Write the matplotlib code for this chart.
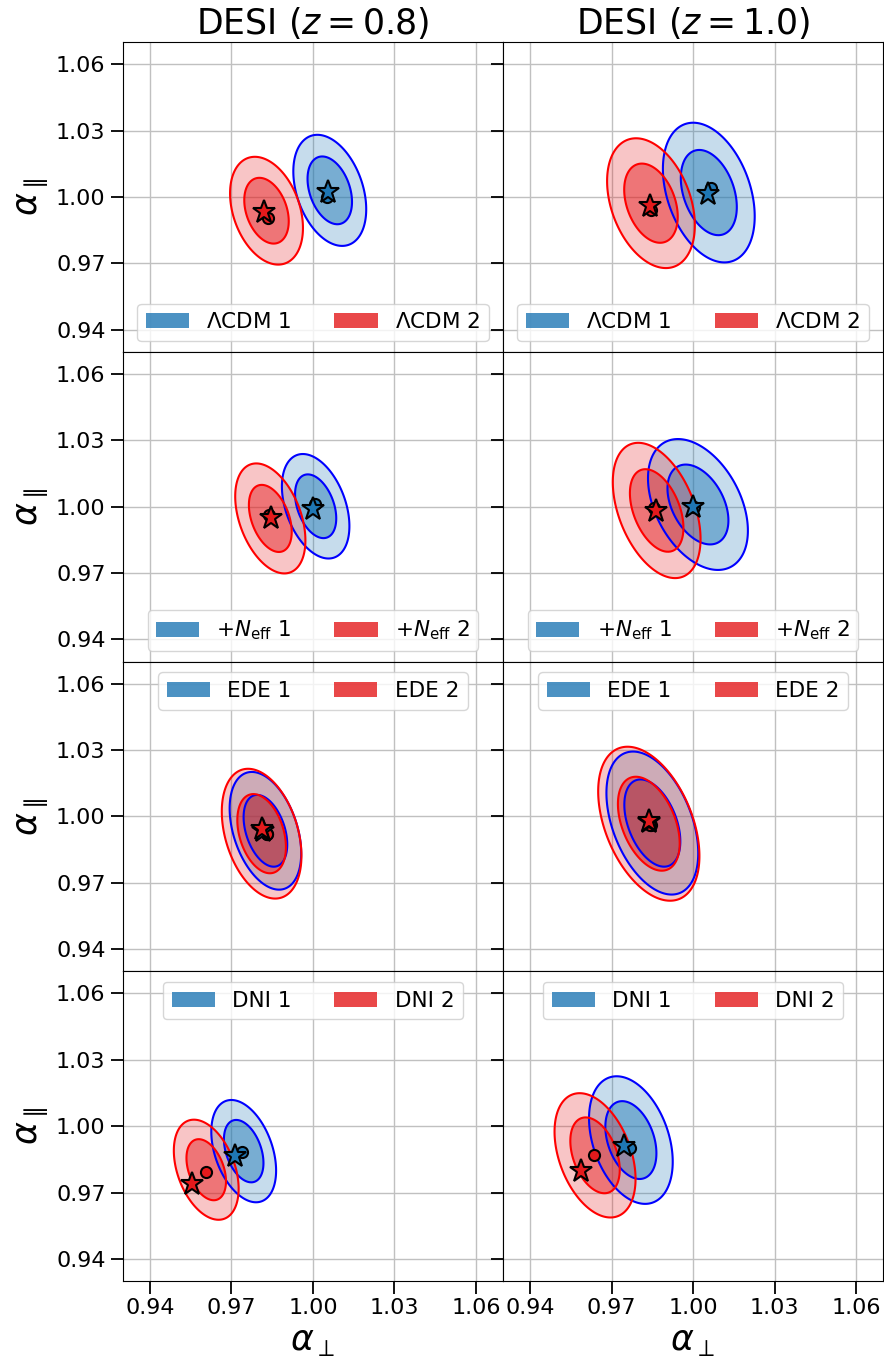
import matplotlib
matplotlib.use('Agg')
import matplotlib.pyplot as plt
import numpy as np
from matplotlib.patches import Patch

# Models (rows) and redshift bins (columns)
models = [r'$\Lambda$CDM', r'$+N_{\rm eff}$', 'EDE', 'DNI']
redshifts = [0.8, 1.0]
legend_loc = ['lower center', 'lower center', 'upper center', 'upper center']

# Dataset 1: posterior means, widths and correlation, shape (model, redshift)
mx1 = [[1.0062, 1.0058], [1.0010, 1.0018], [0.9825, 0.9850], [0.9745, 0.9771]]
my1 = [[1.0030, 1.0020], [1.0002, 1.0010], [0.9935, 0.9970], [0.9887, 0.9937]]
sx1 = [[0.0054, 0.0068], [0.0050, 0.0074], [0.0053, 0.0068], [0.0048, 0.0062]]
sy1 = [[0.0101, 0.0127], [0.0095, 0.0119], [0.0107, 0.0130], [0.0093, 0.0116]]
rho1 = [[-0.34, -0.34], [-0.38, -0.40], [-0.38, -0.42], [-0.38, -0.34]]
star_x1 = [[1.0056, 1.0054], [0.9999, 0.9999], [0.9815, 0.9836], [0.9713, 0.9744]]
star_y1 = [[1.0024, 1.0014], [0.9991, 0.9997], [0.9935, 0.9975], [0.9863, 0.9911]]
dot_x1 = [[1.0053, 1.0067], [1.0006, 1.0003], [0.9829, 0.9845], [0.9737, 0.9766]]
dot_y1 = [[1.0000, 1.0040], [1.0014, 1.0000], [0.9920, 0.9960], [0.9884, 0.9901]]

# Dataset 2
mx2 = [[0.9829, 0.9845], [0.9843, 0.9866], [0.9811, 0.9837], [0.9607, 0.9639]]
my2 = [[0.9938, 0.9972], [0.9947, 0.9983], [0.9922, 0.9967], [0.9803, 0.9868]]
sx2 = [[0.0054, 0.0065], [0.0052, 0.0065], [0.0059, 0.0075], [0.0048, 0.0060]]
sy2 = [[0.0098, 0.0118], [0.0100, 0.0123], [0.0118, 0.0140], [0.0091, 0.0113]]
rho2 = [[-0.32, -0.34], [-0.40, -0.42], [-0.34, -0.42], [-0.38, -0.38]]
star_x2 = [[0.9820, 0.9842], [0.9844, 0.9862], [0.9811, 0.9836], [0.9553, 0.9586]]
star_y2 = [[0.9931, 0.9961], [0.9949, 0.9979], [0.9941, 0.9979], [0.9738, 0.9798]]
dot_x2 = [[0.9835, 0.9846], [0.9839, 0.9855], [0.9829, 0.9840], [0.9606, 0.9637]]
dot_y2 = [[0.9904, 0.9941], [0.9964, 0.9995], [0.9919, 0.9960], [0.9791, 0.9869]]

ticks = [0.94, 0.97, 1.00, 1.03, 1.06]
chi2_levels = [2.30, 6.18]   # 68% and 95% for two parameters

BLUE, BLUE_LINE = 'tab:blue', 'blue'
RED, RED_LINE = '#e41a1c', 'red'

grid = np.linspace(0.93, 1.07, 500)
X, Y = np.meshgrid(grid, grid)


def chi2_map(mx, my, sx, sy, rho):
    dx = (X - mx) / sx
    dy = (Y - my) / sy
    return (dx**2 - 2*rho*dx*dy + dy**2) / (1 - rho**2)


def draw_contours(ax, chi2, fill, line):
    ax.contourf(X, Y, chi2, levels=[0, chi2_levels[0]], colors=[fill], alpha=0.6, antialiased=True)
    ax.contourf(X, Y, chi2, levels=chi2_levels, colors=[fill], alpha=0.25, antialiased=True)
    ax.contour(X, Y, chi2, levels=chi2_levels, colors=[line], linewidths=1.5)


fig = plt.figure(figsize=(8.84, 13.59), dpi=100)
axes = fig.subplots(4, 2, sharex=True, sharey=True)
fig.subplots_adjust(left=0.139, right=0.999, top=0.969, bottom=0.0574, wspace=0, hspace=0)

for i, model in enumerate(models):
    for j, z in enumerate(redshifts):
        ax = axes[i, j]
        ax.grid(True, color='#c0c0c0', lw=1.0)
        ax.set_axisbelow(True)

        draw_contours(ax, chi2_map(mx1[i][j], my1[i][j], sx1[i][j], sy1[i][j], rho1[i][j]), BLUE, BLUE_LINE)
        draw_contours(ax, chi2_map(mx2[i][j], my2[i][j], sx2[i][j], sy2[i][j], rho2[i][j]), RED, RED_LINE)

        ax.plot(dot_x1[i][j], dot_y1[i][j], 'o', ms=8, mfc=BLUE, mec='k', mew=1.5)
        ax.plot(dot_x2[i][j], dot_y2[i][j], 'o', ms=8, mfc=RED, mec='k', mew=1.5)
        ax.plot(star_x1[i][j], star_y1[i][j], '*', ms=17, mfc=BLUE, mec='k', mew=1.5)
        ax.plot(star_x2[i][j], star_y2[i][j], '*', ms=17, mfc=RED, mec='k', mew=1.5)

        handles = [Patch(color=BLUE, alpha=0.8, lw=0), Patch(color=RED, alpha=0.8, lw=0)]
        ax.legend(handles, [model + ' 1', model + ' 2'], loc=legend_loc[i], ncol=2, fontsize=15.5)

        ax.set_xlim(0.93, 1.07)
        ax.set_ylim(0.93, 1.07)
        ax.set_xticks(ticks)
        ax.set_yticks(ticks)
        ax.tick_params(labelsize=16, length=9, width=1.3, direction='out')

        if i == 0:
            ax.set_title(r'DESI ($z=%.1f$)' % z, fontsize=25)
        if j == 0:
            ax.set_ylabel(r'$\alpha_\parallel$', fontsize=25)
        if i == len(models) - 1:
            ax.set_xlabel(r'$\alpha_\perp$', fontsize=25)

for ax in axes.flat:
    ax.label_outer()

fig.savefig('out.png', dpi=100)
